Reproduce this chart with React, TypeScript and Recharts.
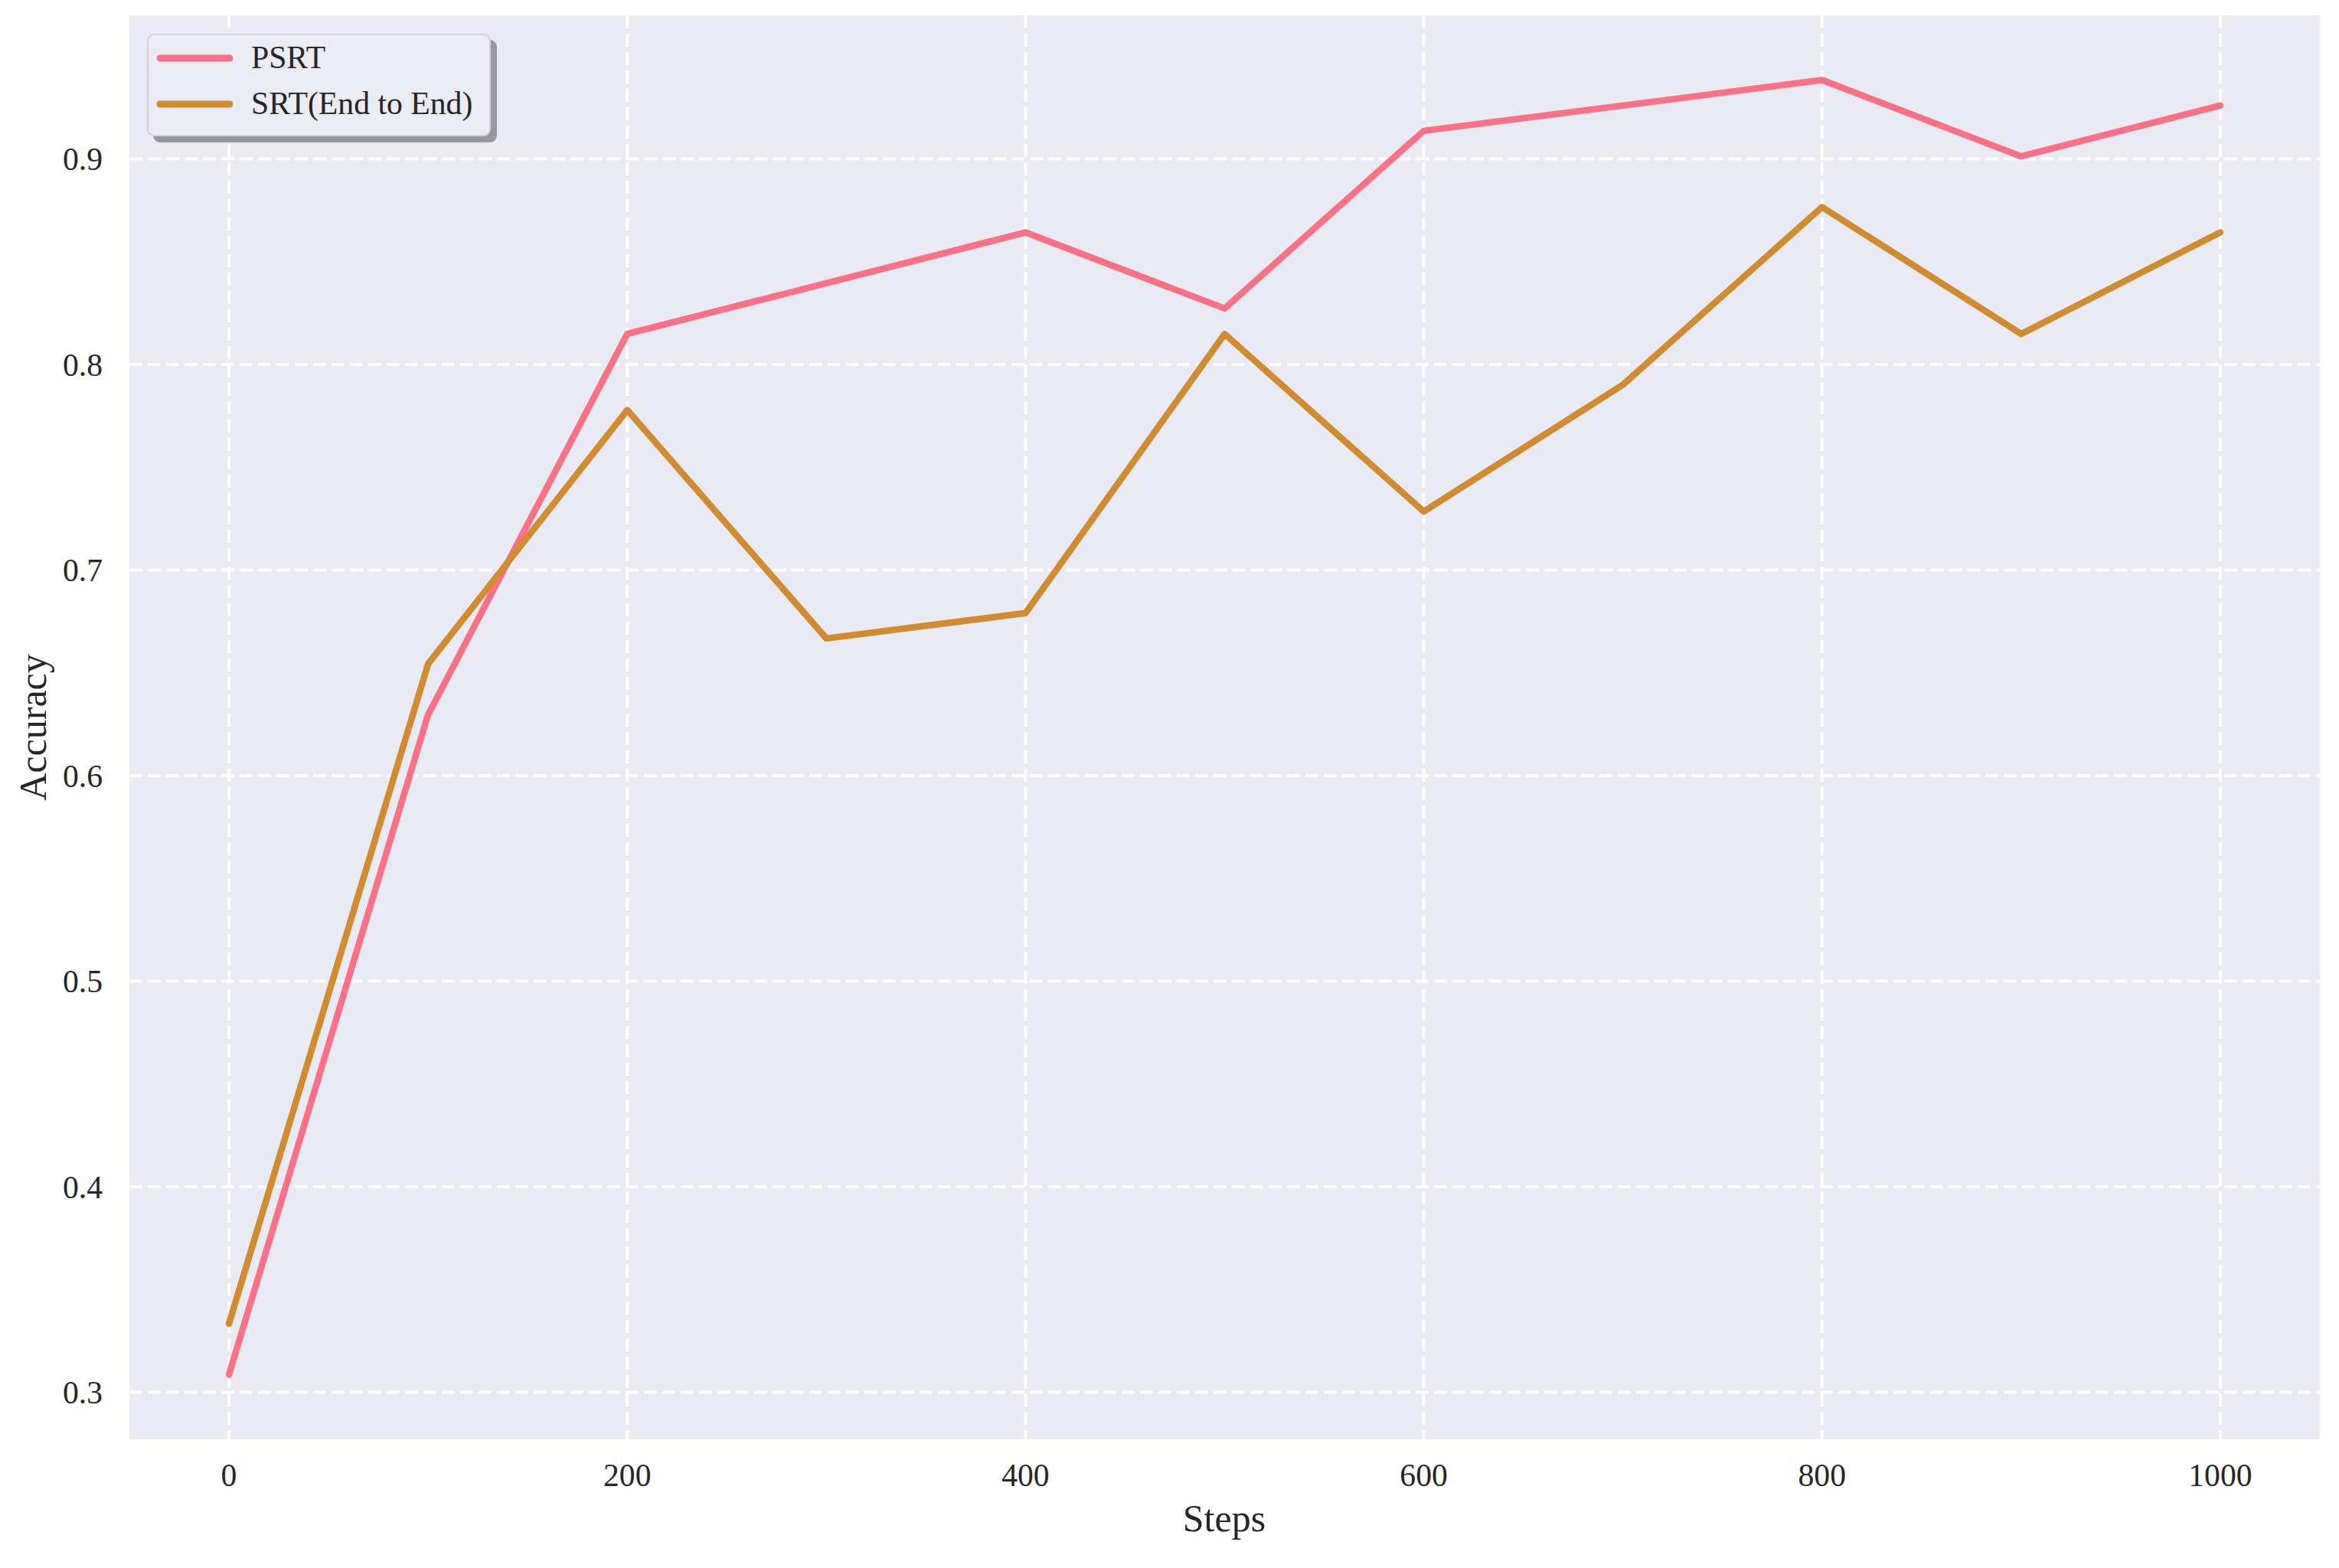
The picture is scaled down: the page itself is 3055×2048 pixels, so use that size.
import { LineChart, Line, XAxis, YAxis, CartesianGrid, Legend } from 'recharts';

const steps = [0, 100, 200, 300, 400, 500, 600, 700, 800, 900, 1000];
const psrt = [0.3086, 0.6296, 0.8148, 0.8395, 0.8642, 0.8272, 0.9136, 0.9259, 0.9383, 0.9012, 0.9259];
const srt = [0.3333, 0.6543, 0.7778, 0.6667, 0.679, 0.8148, 0.7284, 0.7901, 0.8765, 0.8148, 0.8642];
const xTicks = [0, 200, 400, 600, 800, 1000];
const yTicks = [0.3, 0.4, 0.5, 0.6, 0.7, 0.8, 0.9];

const FONT = '"Liberation Serif", "Times New Roman", serif';
const TEXT = '#262626';

const data = steps.map((s, i) => ({ step: s, psrt: psrt[i], srt: srt[i] }));

function LegendBox({ payload }: any) {
  return (
    <div
      style={{
        width: 449,
        height: 134,
        boxSizing: 'border-box',
        background: '#ebebf2',
        border: '2px solid #d2d2d6',
        borderRadius: 9,
        boxShadow: '8px 8px 0 #97979c',
        paddingTop: 0,
        paddingLeft: 10,
        fontFamily: FONT,
        fontSize: 41.7,
        color: TEXT,
        textAlign: 'left',
      }}
    >
      {(payload || []).map((p: any) => (
        <div key={p.value} style={{ height: 60, display: 'flex', alignItems: 'center' }}>
          <svg width={100} height={14} style={{ marginRight: 24, flex: 'none' }}>
            <line x1={5} y1={7} x2={96} y2={7} stroke={p.color} strokeWidth={9} strokeLinecap="round" />
          </svg>
          <span style={{ lineHeight: 1, whiteSpace: 'nowrap' }}>{p.value}</span>
        </div>
      ))}
    </div>
  );
}

function XLabel() {
  return (
    <text x={1599} y={2000} textAnchor="middle" fontFamily={FONT} fontSize={50} fill={TEXT}>
      Steps
    </text>
  );
}

function YLabel() {
  return (
    <text
      x={43}
      y={950}
      textAnchor="middle"
      dominantBaseline="central"
      transform="rotate(-90, 43, 950)"
      fontFamily={FONT}
      fontSize={50}
      fill={TEXT}
    >
      Accuracy
    </text>
  );
}

export default function App() {
  return (
    <div style={{ position: 'absolute', left: 0, top: 0, width: 3055, height: 2048, background: '#fff' }}>
      <LineChart width={3055} height={2048} data={data} margin={{ top: 20, right: 25, left: 0, bottom: 0 }}>
        <CartesianGrid
          fill="#eaeaf2"
          stroke="#ffffff"
          strokeOpacity={0.85}
          strokeWidth={4}
          strokeDasharray="17 7"
          horizontalValues={yTicks}
          verticalValues={xTicks}
        />
        <XAxis
          dataKey="step"
          type="number"
          domain={[-50, 1050]}
          ticks={xTicks}
          height={168}
          axisLine={false}
          tickLine={false}
          tickSize={0}
          tickMargin={31}
          tick={{ fontFamily: FONT, fontSize: 41.7, fill: TEXT }}
          label={<XLabel />}
        />
        <YAxis
          type="number"
          domain={[0.2771, 0.9698]}
          ticks={yTicks}
          width={169}
          axisLine={false}
          tickLine={false}
          tickSize={0}
          tickMargin={35}
          tickFormatter={(v: number) => v.toFixed(1)}
          tick={{ fontFamily: FONT, fontSize: 41.7, fill: TEXT }}
          label={<YLabel />}
        />
        <Legend
          layout="horizontal"
          align="center"
          verticalAlign="middle"
          content={<LegendBox />}
          wrapperStyle={{ position: 'absolute', left: 192, top: 44, width: 'auto', height: 'auto' }}
        />
        <Line
          type="linear"
          dataKey="psrt"
          name="PSRT"
          stroke="#f77189"
          strokeWidth={8.5}
          strokeLinecap="round"
          strokeLinejoin="round"
          dot={false}
          isAnimationActive={false}
        />
        <Line
          type="linear"
          dataKey="srt"
          name="SRT(End to End)"
          stroke="#d08c32"
          strokeWidth={8.5}
          strokeLinecap="round"
          strokeLinejoin="round"
          dot={false}
          isAnimationActive={false}
        />
      </LineChart>
    </div>
  );
}
